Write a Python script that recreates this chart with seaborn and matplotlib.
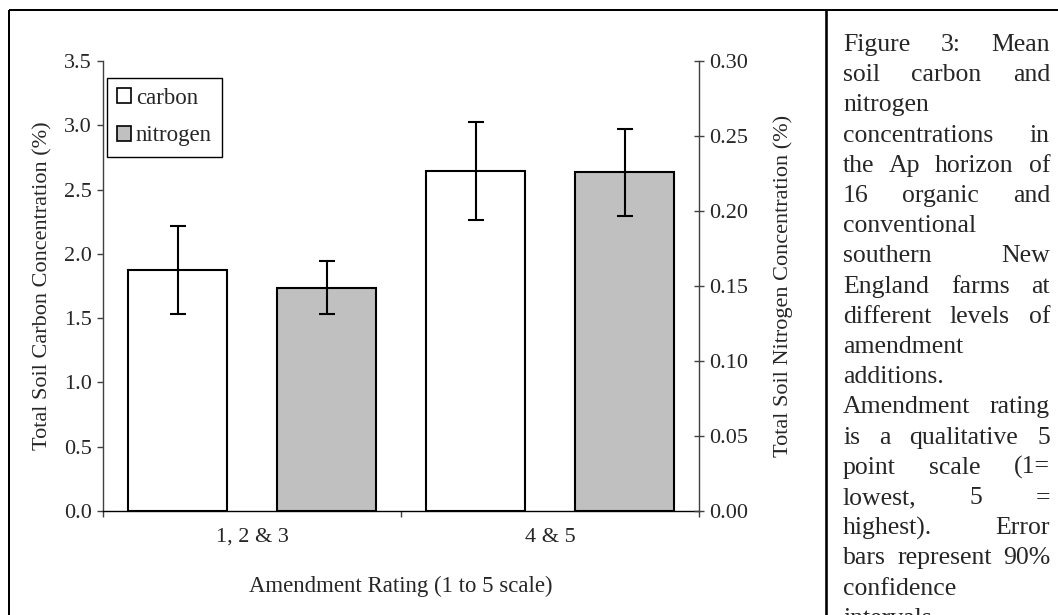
import numpy as np
import pandas as pd
import matplotlib
matplotlib.use("Agg")
import matplotlib.pyplot as plt
import seaborn as sns
from matplotlib.patches import Patch
from matplotlib.lines import Line2D
from matplotlib.ticker import FormatStrFormatter, FixedLocator

# ---------------- data ----------------
categories = ["1, 2 & 3", "4 & 5"]
elements = ["carbon", "nitrogen"]
carbon_mean = [1.874, 2.645]
carbon_ci = [0.343, 0.379]
nitrogen_mean = [0.149, 0.2257]
nitrogen_ci = [0.0174, 0.0292]
carbon_ticks = [0.0, 0.5, 1.0, 1.5, 2.0, 2.5, 3.0, 3.5]
nitrogen_ticks = [0.00, 0.05, 0.10, 0.15, 0.20, 0.25, 0.30]
caption_lines = [
    "Figure 3: Mean",
    "soil carbon and",
    "nitrogen",
    "concentrations in",
    "the Ap horizon of",
    "16 organic and",
    "conventional",
    "southern New",
    "England farms at",
    "different levels of",
    "amendment",
    "additions.",
    "Amendment rating",
    "is a qualitative 5",
    "point scale (1=",
    "lowest, 5 =",
    "highest). Error",
    "bars represent 90%",
    "confidence",
    "intervals.",
]

W, H = 1058, 615
sns.set_theme(style="white")
plt.rcParams["font.family"] = ["Liberation Serif", "DejaVu Serif"]
plt.rcParams["mathtext.default"] = "regular"

fig = plt.figure(figsize=(W / 100, H / 100), dpi=100)
fig.patch.set_facecolor("white")

# axes in pixel layout
L, R, T, B = 103, 699, 61, 511
ax = fig.add_axes([L / W, 1 - B / H, (R - L) / W, (B - T) / H])
ax2 = ax.twinx()

palette = {"carbon": "white", "nitrogen": "#C0C0C0"}
df_c = pd.DataFrame({"rating": categories, "value": carbon_mean, "element": "carbon"})
df_n = pd.DataFrame({"rating": categories, "value": nitrogen_mean, "element": "nitrogen"})

common = dict(x="rating", y="value", hue="element", hue_order=elements, order=categories,
              palette=palette, width=1.0, gap=0.33, dodge=True, edgecolor="black",
              linewidth=1.5, errorbar=None, legend=False, saturation=1)
sns.barplot(data=df_c, ax=ax, **common)
sns.barplot(data=df_n, ax=ax2, **common)

def bar_centers(a):
    return sorted(p.get_x() + p.get_width() / 2 for p in a.patches)

ekw = dict(fmt="none", ecolor="black", elinewidth=1.5, capsize=5.7, capthick=1.5, zorder=5)
ax.errorbar(bar_centers(ax), carbon_mean, yerr=carbon_ci, **ekw)
ax2.errorbar(bar_centers(ax2), nitrogen_mean, yerr=nitrogen_ci, **ekw)

ax.set_xlim(-0.5, len(categories) - 0.5)
ax.set_ylim(carbon_ticks[0], carbon_ticks[-1])
ax2.set_ylim(nitrogen_ticks[0], nitrogen_ticks[-1])

fs = 16
spine_c = "#404040"
for s in ["top", "right"]:
    ax.spines[s].set_visible(False)
for s in ["top", "left", "bottom"]:
    ax2.spines[s].set_visible(False)
ax.spines["left"].set_color(spine_c)
ax.spines["bottom"].set_color("black")
ax2.spines["right"].set_color(spine_c)
for sp in [ax.spines["left"], ax.spines["bottom"], ax2.spines["right"]]:
    sp.set_linewidth(1.0)

ax.set_yticks(carbon_ticks)
ax.yaxis.set_major_formatter(FormatStrFormatter("%.1f"))
ax2.set_yticks(nitrogen_ticks)
ax2.yaxis.set_major_formatter(FormatStrFormatter("%.2f"))
ax.tick_params(axis="y", direction="out", length=4, width=1, color=spine_c,
               labelsize=fs, pad=4, left=True)
ax2.tick_params(axis="y", direction="inout", length=7, width=1, color=spine_c,
                labelsize=fs, pad=4, right=True)

ax.set_xticks(range(len(categories)))
ax.set_xticklabels(categories)
ax.tick_params(axis="x", which="major", length=0, labelsize=fs, pad=12)
ax.xaxis.set_minor_locator(FixedLocator(np.arange(-0.5, len(categories), 1.0)))
ax.tick_params(axis="x", which="minor", direction="out", length=4, width=1,
               color=spine_c, bottom=True)

ax.set_xlabel("Amendment Rating (1 to 5 scale)", fontsize=fs + 0.4)
ax.set_ylabel("Total Soil Carbon Concentration (%)", fontsize=fs)
ax2.set_ylabel("Total Soil Nitrogen Concentration (%)", fontsize=fs)
ax.xaxis.set_label_coords(0.5, -0.145)
ax.yaxis.set_label_coords(-0.085, 0.5)
ax2.yaxis.set_label_coords(1.125, 0.5)
ax.grid(False)
ax2.grid(False)

handles = [Patch(facecolor=palette[e], edgecolor="black", linewidth=1.2, label=e) for e in elements]
leg = ax2.legend(handles=handles, loc="upper left", bbox_to_anchor=(0.006, 0.963),
                 prop={"size": fs + 0.5}, frameon=True, fancybox=False, framealpha=1,
                 edgecolor="black", borderpad=0.45, handlelength=0.62, handleheight=0.62,
                 handletextpad=0.2, labelspacing=0.72, borderaxespad=0)
leg.get_frame().set_linewidth(1.0)

# outer frame lines
def fx(px):
    return px / W

def fy(py):
    return 1 - py / H

for xs, ys, lw in [((8.5, 8.5), (10, H), 2.0),
                   ((8.5, W), (10, 10), 2.0),
                   ((825.5, 825.5), (10, H), 2.6)]:
    fig.add_artist(Line2D([fx(x) for x in xs], [fy(y) for y in ys],
                          transform=fig.transFigure, color="black", lw=lw * 0.72,
                          solid_capstyle="butt"))

# justified caption
cap_fs = 18.5
x0, x1 = 843, 1050
base0, pitch = 51, 30.2
fig.canvas.draw()
renderer = fig.canvas.get_renderer()
for i, line in enumerate(caption_lines):
    words = line.split()
    y = fy(base0 + i * pitch)
    texts = [fig.text(0, y, w, fontsize=cap_fs, va="baseline", ha="left") for w in words]
    widths = [t.get_window_extent(renderer).width for t in texts]
    if len(words) == 1:
        gap = 0
    else:
        gap = (x1 - x0 - sum(widths)) / (len(words) - 1)
    x = x0
    for t, w in zip(texts, widths):
        t.set_x(fx(x))
        x += w + gap

fig.savefig("out.png", dpi=100)
